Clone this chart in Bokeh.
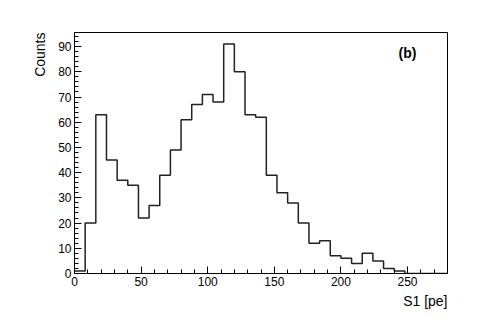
from bokeh.plotting import figure
from bokeh.models import Range1d, SingleIntervalTicker, Label, Title
from bokeh.embed import file_html
from bokeh.resources import INLINE

# Histogram data: bin edges (S1 [pe]) and counts per bin
bin_width = 8
bin_lows = [0, 8, 16, 24, 32, 40, 48, 56, 64, 72, 80, 88, 96, 104, 112, 120, 128,
            136, 144, 152, 160, 168, 176, 184, 192, 200, 208, 216, 224, 232, 240,
            248, 256, 264, 272]
counts = [1, 20, 63, 45, 37, 35, 22, 27, 39, 49, 61, 67, 71, 68, 91, 80, 63,
          62, 39, 32, 28, 20, 12, 13, 7, 6, 4, 8, 5, 2, 1,
          0, 0, 0, 0]

x_title = "S1 [pe]"
y_title = "Counts"
panel_tag = "(b)"

FONT = "Liberation Sans"

p = figure(width=489, height=314, output_backend="svg", toolbar_location=None,
           x_range=Range1d(0, 280), y_range=Range1d(0, 95.6),
           min_border_left=74, min_border_right=42, min_border_top=32,
           min_border_bottom=41)

p.background_fill_color = "white"
p.border_fill_color = "white"
p.outline_line_color = "black"
p.outline_line_width = 1
p.grid.visible = False

# step outline of the histogram
xs = bin_lows + [bin_lows[-1] + bin_width]
ys = counts + [counts[-1]]
p.step(xs, ys, mode="after", line_color="#222222", line_width=1.5)

p.xaxis.ticker = SingleIntervalTicker(interval=50, num_minor_ticks=5)
p.yaxis.ticker = SingleIntervalTicker(interval=10, num_minor_ticks=5)

for ax in (p.xaxis, p.yaxis):
    ax.axis_line_color = "black"
    ax.major_tick_line_color = "black"
    ax.minor_tick_line_color = "black"
    ax.major_tick_in = 7
    ax.major_tick_out = 0
    ax.minor_tick_in = 4
    ax.minor_tick_out = 0
    ax.major_label_text_font = FONT
    ax.major_label_text_font_size = "12px"
    ax.major_label_text_color = "black"
    ax.major_label_standoff = 3

p.add_layout(Title(text=x_title, align="right", text_font=FONT,
                   text_font_size="14px", text_font_style="normal",
                   text_color="black", standoff=4, offset=0), "below")
p.add_layout(Title(text=y_title, align="right", text_font=FONT,
                   text_font_size="14px", text_font_style="normal",
                   text_color="black", standoff=15, offset=0), "left")

p.add_layout(Label(x=250, y=87.4, text=panel_tag, text_align="center",
                   text_baseline="middle", text_font=FONT,
                   text_font_size="14px", text_font_style="bold",
                   text_color="black"))

open("out.html", "w").write(file_html(p, INLINE))
